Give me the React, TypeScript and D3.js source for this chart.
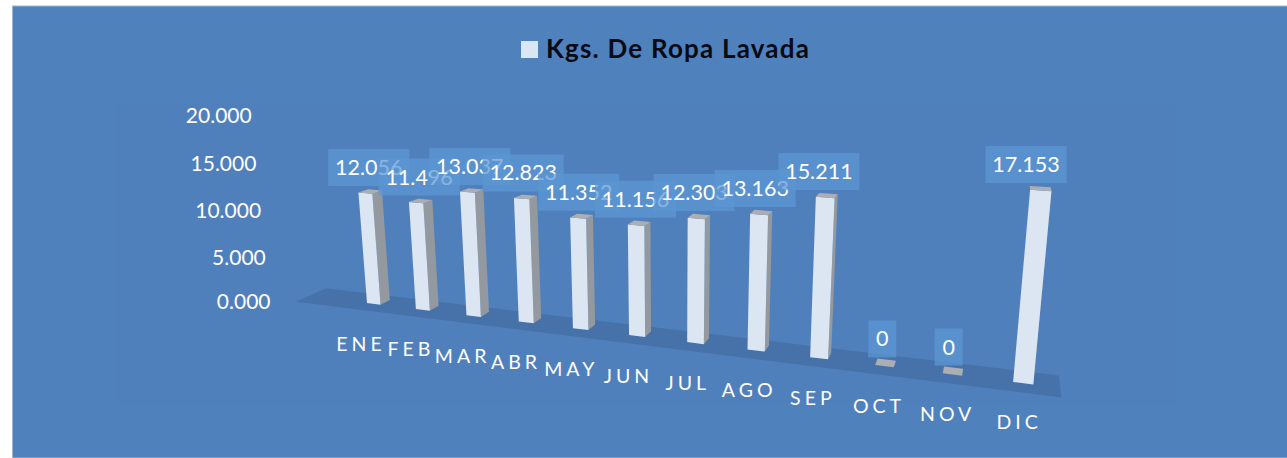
import React from "react";
import * as d3 from "d3";

const months = ["ENE", "FEB", "MAR", "ABR", "MAY", "JUN", "JUL", "AGO", "SEP", "OCT", "NOV", "DIC"];
const kgs = [12056, 11496, 13037, 12823, 11352, 11156, 12303, 13163, 15211, 0, 0, 17153];
const kgsLabels = ["12.056", "11.496", "13.037", "12.823", "11.352", "11.156", "12.303", "13.163", "15.211", "0", "0", "17.153"];
const axisValues = [0, 5000, 10000, 15000, 20000];
const axisLabels = ["0.000", "5.000", "10.000", "15.000", "20.000"];
const legendTitle = "Kgs. De Ropa Lavada";

const FONT = "Lato, 'Noto Sans', sans-serif";
const WHITE = "#ffffff";

// Band scale in "world" units: one step per month, bar width 0.28 of a step.
const band = d3.scaleBand<string>().domain(months).range([0, 11.28]).paddingInner(0.72).paddingOuter(0);
// Value scale in world height.
const hScale = d3.scaleLinear().domain([0, 1000]).range([0, 1]);
// The tilted value axis: its labels are not evenly spaced on screen.
const axisY = d3.scaleLinear().domain(axisValues).range([301, 257, 210, 163, 115]);
const axisRight = d3.scaleLinear().domain([0, 20000]).range([270.5, 251.7]);

// Perspective projection of (u along months, h height, d depth) to the screen.
function project(u: number, h: number, d: number): [number, number] {
  const X = 367 + 42.04 * u - 1.521 * h + 15 * d;
  const Y = 303 + 0.882 * u - 9.6 * h - 0.3 * d;
  const W = 1 - 0.01648 * u - 0.002265 * h + 0.0148 * d;
  return [X / W, Y / W];
}

const poly = d3.line<[number, number]>().x((p) => p[0]).y((p) => p[1]).curve(d3.curveLinearClosed);

const floor = poly([
  project(-1.23, 0, -1.27),
  project(11.65, 0, -1.27),
  project(11.65, 0, 1.7),
  project(-1.23, 0, 1.7),
]) as string;

export default function App() {
  const bw = band.bandwidth();
  return (
    <svg width={1287} height={458} style={{ position: "absolute", left: 0, top: 0, display: "block", background: "#fff" }}>
      <rect x={12.5} y={6} width={1275} height={452} fill="#4F81BD" stroke="#9db8d9" strokeWidth={1} />
      <rect x={116} y={103} width={1060} height={300} fill="#5080BC" />

      <rect x={521} y={41} width={17} height={17} fill="#DCE6F2" />
      <text x={546} y={58} fontFamily={FONT} fontSize={26} fontWeight={700} letterSpacing={1.2} fill="#0a0a12">{legendTitle}</text>

      {axisValues.map((v, i) => (
        <text key={v} x={axisRight(v)} y={axisY(v) + 7.5} textAnchor="end" fontFamily={FONT} fontSize={21} fill={WHITE}>
          {axisLabels[i]}
        </text>
      ))}

      <path d={floor} fill="#4672A9" />

      {months.map((m, i) => {
        const u0 = band(m) as number;
        const u1 = u0 + bw;
        const h = hScale(kgs[i]);
        const side = poly([project(u1, 0, 0), project(u1, 0, 1), project(u1, h, 1), project(u1, h, 0)]) as string;
        const top = poly([project(u0, h, 0), project(u1, h, 0), project(u1, h, 1), project(u0, h, 1)]) as string;
        const front = poly([project(u0, 0, 0), project(u1, 0, 0), project(u1, h, 0), project(u0, h, 0)]) as string;
        return (
          <g key={m}>
            {h > 0 && <path d={side} fill="#93999F" />}
            {h > 0 && <path d={front} fill="#DCE6F2" />}
            <path d={top} fill="#ABAFB4" />
          </g>
        );
      })}

      {months.map((m, i) => {
        const u0 = band(m) as number;
        const [bx, by] = project(u0, 0, 0);
        return (
          <text key={m} x={bx - 6 + (i * 12) / 11} y={by + 47.5} textAnchor="middle" fontFamily={FONT} fontSize={19.5} letterSpacing={4} fill={WHITE}>
            {m}
          </text>
        );
      })}

      {months.map((m, i) => {
        const u = (band(m) as number) + bw / 2;
        const h = hScale(kgs[i]);
        const [tx, ty] = project(u, h, 0.5);
        const shift = -0.107 * i * i * (0.5 + kgs[i] / (2 * 17153)) + (kgs[i] > 0 ? -1.5 : 1);
        const cx = tx + shift;
        const cy = ty - 24;
        const w = kgs[i] > 0 ? 81 : 28;
        return (
          <g key={m}>
            <rect x={cx - w / 2} y={cy - 18.5} width={w} height={37} fill="#5C97D4" fillOpacity={0.72} />
            <text x={cx} y={cy + 7.5} textAnchor="middle" fontFamily={FONT} fontSize={21.5} fill={WHITE}>
              {kgsLabels[i]}
            </text>
          </g>
        );
      })}
    </svg>
  );
}
